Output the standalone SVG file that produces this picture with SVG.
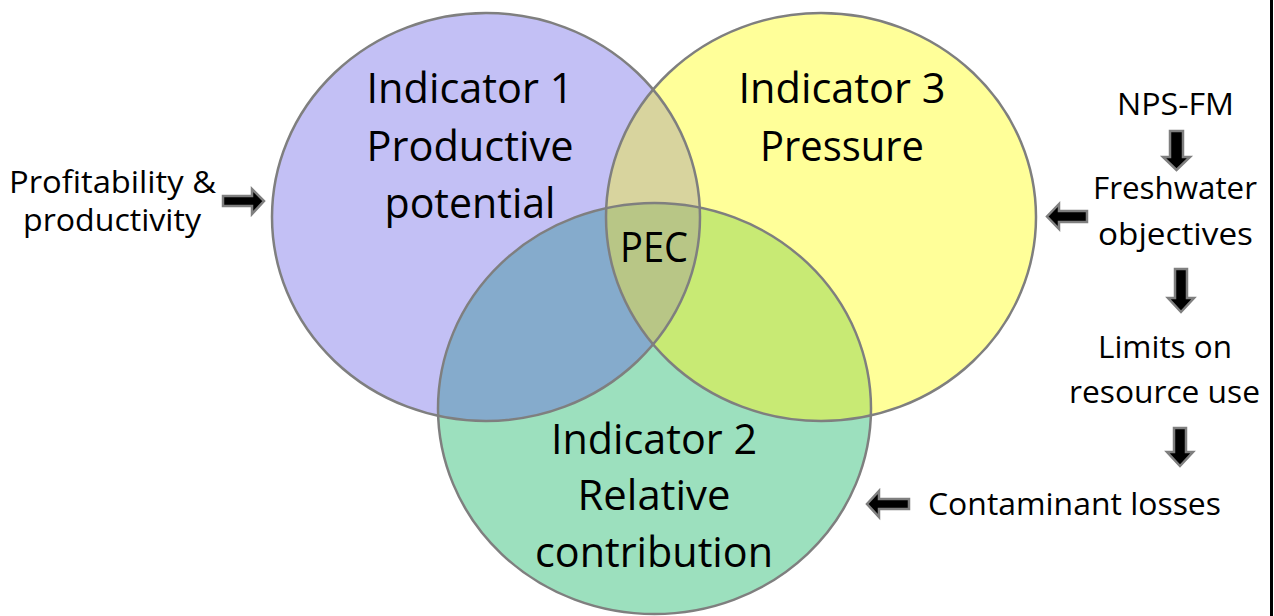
<svg xmlns="http://www.w3.org/2000/svg" width="1274" height="616" viewBox="0 0 1274 616">
<style>
.big{font-family:"Open Sans","Noto Sans","Liberation Sans",sans-serif;font-size:42px;fill:#000;text-anchor:middle}
.small{font-family:"Open Sans","Noto Sans","Liberation Sans",sans-serif;font-size:31px;fill:#000;text-anchor:middle}
.ring{fill:none;stroke:#7F7F7F;stroke-width:2.5}
.arr{fill:#000;stroke:#7F7F7F;stroke-width:2.5;stroke-linejoin:miter}
</style>
<defs>
<clipPath id="cP"><ellipse cx="486" cy="217" rx="214" ry="204"/></clipPath>
<clipPath id="cY"><ellipse cx="821" cy="217" rx="215" ry="204"/></clipPath>
<clipPath id="cG"><ellipse cx="654.5" cy="408.5" rx="216.5" ry="205.5"/></clipPath>
</defs>
<rect width="1274" height="616" fill="#fff"/>
<g id="fills">
<ellipse cx="486" cy="217" rx="214" ry="204" fill="#C3C0F5"/>
<ellipse cx="821" cy="217" rx="215" ry="204" fill="#FFFF99"/>
<ellipse cx="654.5" cy="408.5" rx="216.5" ry="205.5" fill="#9CE0BE"/>
<ellipse cx="821" cy="217" rx="215" ry="204" fill="#D8D49E" clip-path="url(#cP)"/>
<ellipse cx="654.5" cy="408.5" rx="216.5" ry="205.5" fill="#85ABCC" clip-path="url(#cP)"/>
<ellipse cx="654.5" cy="408.5" rx="216.5" ry="205.5" fill="#C8EA74" clip-path="url(#cY)"/>
<g clip-path="url(#cP)"><ellipse cx="654.5" cy="408.5" rx="216.5" ry="205.5" fill="#B8C686" clip-path="url(#cY)"/></g>
</g>
<g id="indicator1">
<ellipse class="ring" cx="486" cy="217" rx="214" ry="204"/>
<text class="big" x="470" y="103" textLength="207" lengthAdjust="spacingAndGlyphs">Indicator 1</text>
<text class="big" x="470" y="161" textLength="207" lengthAdjust="spacingAndGlyphs">Productive</text>
<text class="big" x="470" y="218" textLength="171" lengthAdjust="spacingAndGlyphs">potential</text>
</g>
<g id="indicator3">
<ellipse class="ring" cx="821" cy="217" rx="215" ry="204"/>
<text class="big" x="842" y="103" textLength="207" lengthAdjust="spacingAndGlyphs">Indicator 3</text>
<text class="big" x="842" y="161" textLength="164" lengthAdjust="spacingAndGlyphs">Pressure</text>
</g>
<g id="indicator2">
<ellipse class="ring" cx="654.5" cy="408.5" rx="216.5" ry="205.5"/>
<text class="big" x="654" y="454" textLength="206" lengthAdjust="spacingAndGlyphs">Indicator 2</text>
<text class="big" x="654" y="510" textLength="153" lengthAdjust="spacingAndGlyphs">Relative</text>
<text class="big" x="654" y="567" textLength="238" lengthAdjust="spacingAndGlyphs">contribution</text>
</g>
<g id="pec"><text class="big" x="654" y="262" textLength="68" lengthAdjust="spacingAndGlyphs">PEC</text></g>
<g id="profitability">
<text class="small" x="112.5" y="193" textLength="207" lengthAdjust="spacingAndGlyphs">Profitability &amp;</text>
<text class="small" x="112" y="231" textLength="178" lengthAdjust="spacingAndGlyphs">productivity</text>
</g>
<g id="npsfm"><text class="small" x="1175.5" y="115" textLength="117" lengthAdjust="spacingAndGlyphs">NPS-FM</text></g>
<g id="freshwater">
<text class="small" x="1175" y="199" textLength="164" lengthAdjust="spacingAndGlyphs">Freshwater</text>
<text class="small" x="1175.5" y="245" textLength="155" lengthAdjust="spacingAndGlyphs">objectives</text>
</g>
<g id="limits">
<text class="small" x="1165" y="358" textLength="134" lengthAdjust="spacingAndGlyphs">Limits on</text>
<text class="small" x="1164.5" y="403" textLength="191" lengthAdjust="spacingAndGlyphs">resource use</text>
</g>
<g id="contaminant"><text class="small" x="1074.5" y="515" textLength="293" lengthAdjust="spacingAndGlyphs">Contaminant losses</text></g>
<g id="connectors">
<polygon class="arr" points="223,196 252,196 252,189 264,201 252,214 252,206 223,206"/>
<polygon class="arr" points="1170,131 1183,131 1183,157 1190,157 1176.5,170 1163,157 1170,157"/>
<polygon class="arr" points="1175,269 1187,269 1187,298 1194,298 1181,312 1168,298 1175,298"/>
<polygon class="arr" points="1174,428 1186,428 1186,452 1193,452 1180,466 1167,452 1174,452"/>
<polygon class="arr" points="1087,211 1059,211 1059,204 1047,216.5 1059,229 1059,222 1087,222"/>
<polygon class="arr" points="909,499 879,499 879,491 867,504 879,517 879,509 909,509"/>
</g>
<line x1="1271.5" y1="0" x2="1271.5" y2="616" stroke="#000" stroke-width="3"/>
</svg>
